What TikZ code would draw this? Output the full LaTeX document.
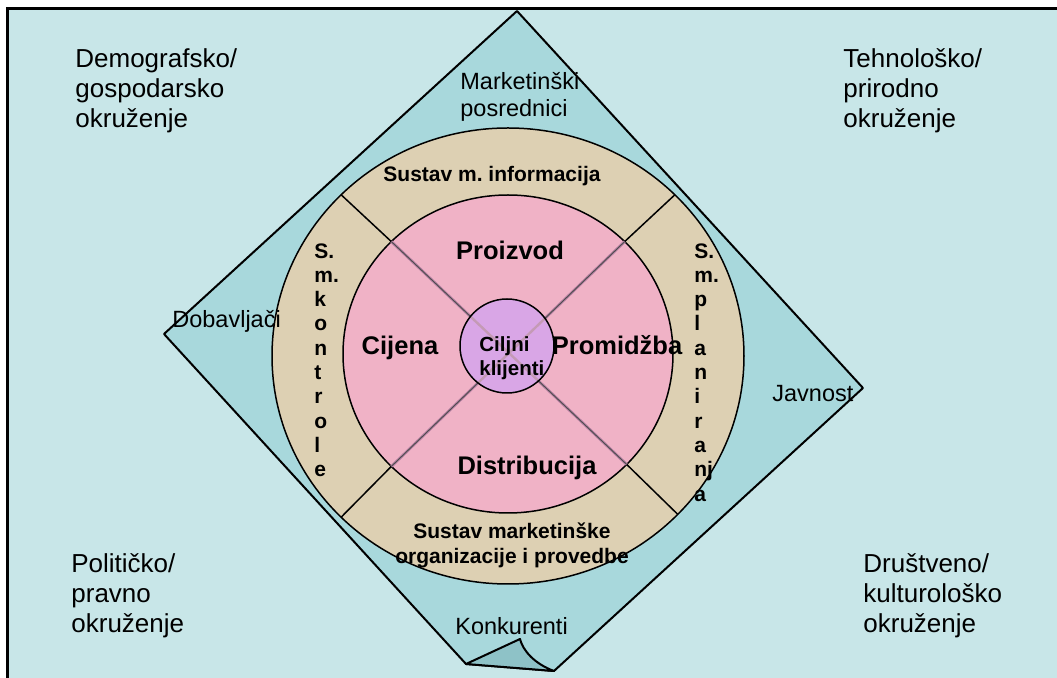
\documentclass[tikz,border=0pt]{standalone}
\usepackage{fontspec}
\setmainfont{Liberation Sans}
\frenchspacing
\usetikzlibrary{calc}
\definecolor{envbg}{HTML}{C8E6E8}
\definecolor{diamondfill}{HTML}{A8D8DC}
\definecolor{flapfill}{HTML}{8EC2C7}
\definecolor{ringtan}{HTML}{DDD0B3}
\definecolor{mixpink}{HTML}{F0B2C6}
\definecolor{corepurple}{HTML}{D9A6E6}
\definecolor{xline}{HTML}{B580A2}
\begin{document}
\begin{tikzpicture}[x=0.5pt,y=-0.5pt,
	envlabel/.style={anchor=north west,inner sep=0pt,align=left,font=\fontsize{13}{15}\selectfont},
	sidelabel/.style={anchor=base west,inner sep=0pt,font=\fontsize{11.75}{13.5}\selectfont},
	mixlabel/.style={anchor=base,inner sep=0pt,font=\bfseries\fontsize{12.75}{15}\selectfont},
	ringlabel/.style={inner sep=0pt,font=\bfseries\fontsize{10.5}{12.15}\selectfont},
	edge/.style={line width=0.75pt}]
	\useasboundingbox (0,0) rectangle (1057,678);
	\clip (0,0) rectangle (1057,678);
	\fill[white] (0,0) rectangle (1057,678);

	% okruzenje
	\draw[fill=envbg,line width=1.5pt] (7,9) rectangle (1080,700);

	% dionici (romb s presavijenim vrhom)
	\draw[fill=diamondfill,line width=1pt,line join=round] (517,11) -- (863,388) -- (554,671) -- (466,664) -- (164,334) -- cycle;
	\draw[fill=flapfill,line width=1pt,line join=round] (466,664) -- (520,639) .. controls (523,651) and (535,664) .. (554,671) -- cycle;

	% krugovi
	\coordinate (tanc) at (508,356);
	\coordinate (pinkc) at (508,354);
	\coordinate (corec) at (507,346);
	\draw[fill=ringtan,edge] (tanc) ellipse [x radius=118pt,y radius=114pt];
	\foreach \a/\n in {135/ul,45/ur,225/ll,316/lr}{
		\coordinate (o\n) at ($(tanc)+(\a:118pt and 114pt)$);
		\coordinate (i\n) at ($(pinkc)+(\a:82.5pt and 79.5pt)$);
	}
	\draw[edge] (oul) -- (iul);
	\draw[edge] (our) -- (iur);
	\draw[edge] (oll) -- (ill);
	\draw[edge] (olr) -- (ilr);

	\draw[fill=mixpink,edge] (pinkc) ellipse [x radius=82.5pt,y radius=79.5pt];
	\draw[xline,line width=1.4pt] (iul) -- (ilr) (iur) -- (ill);
	\draw[black!70,line width=0.45pt] (iul) -- (ilr) (iur) -- (ill);

	\fill[corepurple] (corec) circle [radius=23.5pt];
	\begin{scope}
		\clip (corec) circle [radius=23.5pt];
		\draw[xline!80,line width=1.2pt] (iul) -- (ilr) (iur) -- (ill);
	\end{scope}
	\draw[edge] (corec) circle [radius=23.5pt];

	% tekst
	\node[envlabel] (demo) at (75,48) {Demografsko/\\gospodarsko\\okruženje};
	\node[envlabel] (tehno) at (843,48) {Tehnološko/\\prirodno\\okruženje};
	\node[envlabel] (polit) at (71,553) {Političko/\\pravno\\okruženje};
	\node[envlabel] (drust) at (863,553) {Društveno/\\kulturološko\\okruženje};

	\node[sidelabel,anchor=north west,align=left] (posr) at (460,72) {Marketinški\\posrednici};
	\node[sidelabel] (dobav) at (172,328) {Dobavljači};
	\node[sidelabel] (javn) at (772,402) {Javnost};
	\node[sidelabel] (konk) at (455,635) {Konkurenti};

	\node[mixlabel] (proiz) at (510,260) {Proizvod};
	\node[mixlabel] (cij) at (400,355) {Cijena};
	\node[mixlabel] (prom) at (617,355) {Promidžba};
	\node[mixlabel] (distr) at (527,475) {Distribucija};
	\node[inner sep=0pt,anchor=north west,align=left,font=\bfseries\fontsize{10.25}{12}\selectfont] (cilj) at (479,336) {Ciljni\\klijenti};

	\node[ringlabel,anchor=base] (smi) at (492,182) {Sustav m. informacija};
	\node[ringlabel,anchor=north,align=center,font=\bfseries\fontsize{10.5}{12.5}\selectfont] (smo) at (512,522) {Sustav marketinške\\organizacije i provedbe};
	\node[ringlabel,anchor=north west,align=left] (smk) at (314,243) {S.\\m.\\k\\o\\n\\t\\r\\o\\l\\e};
	\node[ringlabel,anchor=north west,align=left] (smp) at (694,243) {S.\\m.\\p\\l\\a\\n\\i\\r\\a\\nj\\a};
\end{tikzpicture}
\end{document}
